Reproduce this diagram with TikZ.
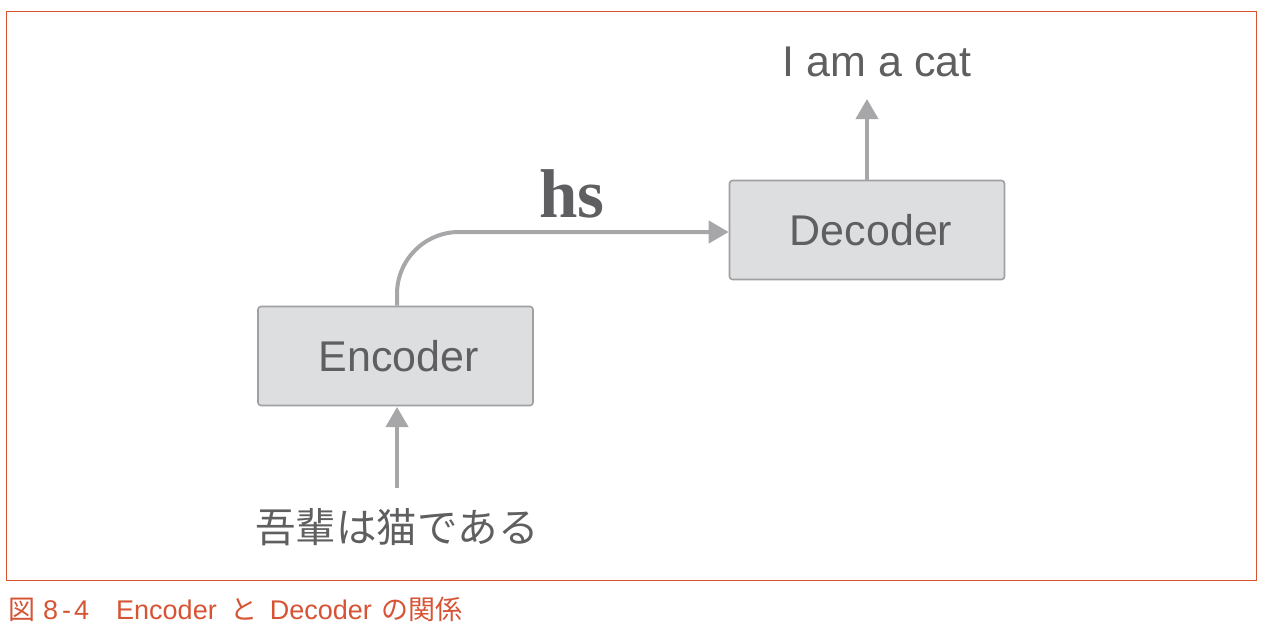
\documentclass[tikz,border=0pt]{standalone}
\usepackage{fontspec}
\setmainfont{Liberation Sans}
\newfontfamily\cjk{Noto Sans CJK JP}
\newfontfamily\hsfont{Liberation Serif}
\usetikzlibrary{arrows.meta}
\definecolor{frameC}{RGB}{214,84,52}
\definecolor{boxfill}{RGB}{221,222,224}
\definecolor{boxdraw}{RGB}{160,160,163}
\definecolor{arrowC}{RGB}{167,167,170}
\definecolor{textC}{RGB}{95,95,97}
\tikzset{
  blockbox/.style={draw=boxdraw, fill=boxfill, line width=1.6pt, rounded corners=3pt, minimum width=275pt, minimum height=99pt, font=\fontsize{43}{48}\selectfont, text=textC, inner sep=0pt},
  flow/.style={draw=arrowC, line width=4pt, -{Triangle[width=22pt,length=20pt]}},
  plain/.style={font=\fontsize{43}{48}\selectfont, text=textC, inner sep=0pt}
}
\begin{document}
\begin{tikzpicture}[x=1pt,y=-1pt]
\useasboundingbox (0,0) rectangle (1274,632);
\draw[frameC, line width=1pt] (6,11) rectangle (1256,580);
\node[blockbox] (enc) at (395.5,356) {\hspace{6pt}Encoder};
\node[blockbox] (dec) at (867,230) {\hspace{8pt}Decoder};
\node[plain] (out) at (877,62) {I am a cat};
\node[plain, font=\cjk\fontsize{40.5}{46}\selectfont] (in) at (397,527) {吾輩は猫である};
\node[font=\hsfont\bfseries\fontsize{69}{72}\selectfont, text=textC, inner sep=0pt] (hs) at (572,194) {hs};
\coordinate (inTop) at (397,488);
\coordinate (outBot) at (867,99);
\draw[flow] (inTop) -- (397,407);
\draw[flow] (dec.north -| outBot) -- (outBot);
\draw[flow, rounded corners=62pt] (enc.north -| 397,0) -- (397,232) -- (dec.west |- 0,232);
\node[anchor=west, inner sep=0pt, text=frameC, font=\fontsize{27}{32}\selectfont] (cap) at (8,609) {{\cjk 図}\hspace{8pt}8\hspace{4pt}-\hspace{3pt}4\hspace{27pt}Encoder\hspace{14pt}{\cjk と}\hspace{12pt}Decoder\hspace{10pt}{\cjk の関係}};
\end{tikzpicture}
\end{document}
